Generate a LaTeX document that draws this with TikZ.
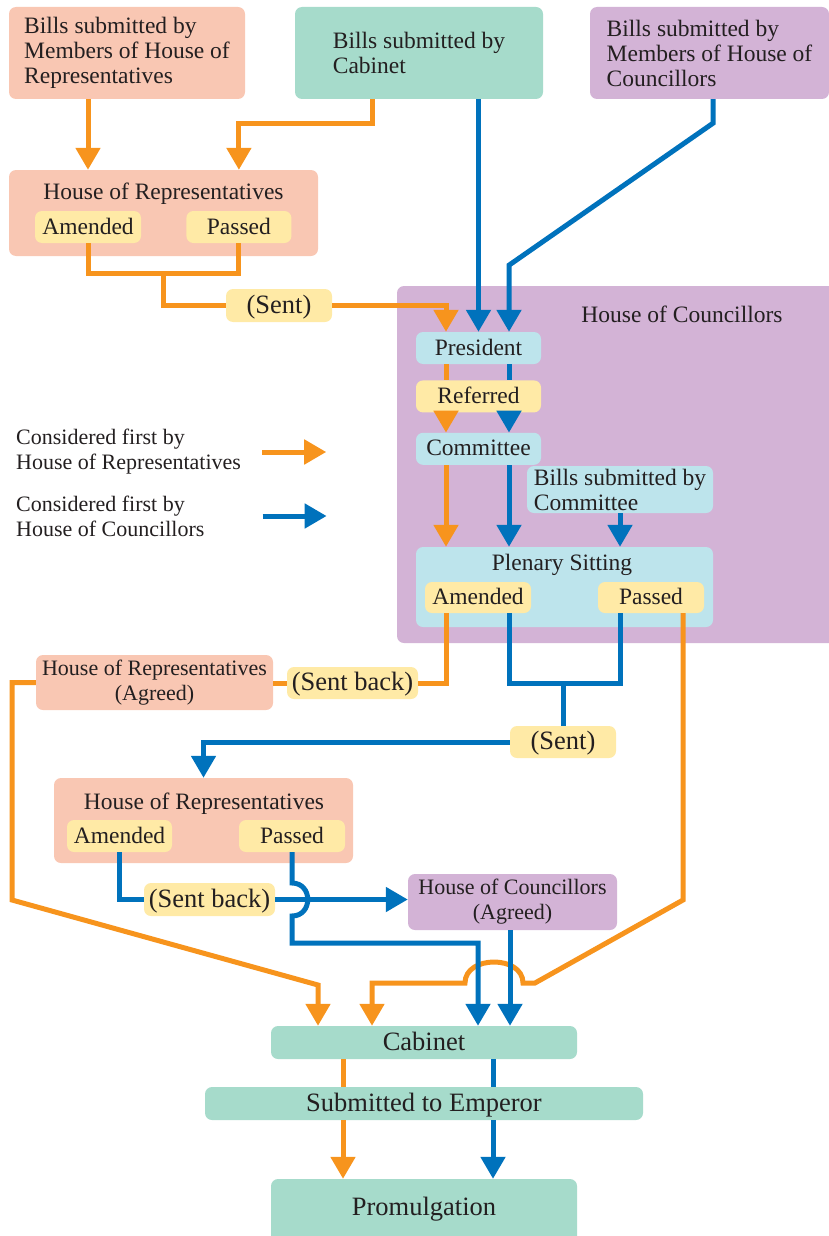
\documentclass[tikz,border=0pt]{standalone}
\usepackage{fontspec}
\setmainfont{Liberation Serif}
\usetikzlibrary{arrows.meta,positioning}

\definecolor{repcol}{HTML}{F9C7B3}
\definecolor{cabcol}{HTML}{A6DBCB}
\definecolor{coucol}{HTML}{D3B3D6}
\definecolor{comcol}{HTML}{BDE4EC}
\definecolor{tagcol}{HTML}{FFEAA6}
\definecolor{orline}{HTML}{F7941D}
\definecolor{blline}{HTML}{0072BC}
\definecolor{ink}{HTML}{231F20}

\begin{document}
\begin{tikzpicture}[x=1pt,y=-1pt]
\tikzstyle{box}=[rectangle, rounded corners=7pt, inner sep=0pt, text=ink, font=\fontsize{23.5}{25}\selectfont]
\tikzstyle{one}=[box, text height=16.5pt, text depth=2.5pt]
\tikzstyle{big}=[box, font=\fontsize{26.5}{28}\selectfont, text height=18.5pt, text depth=2.6pt, minimum height=33pt]
\tikzstyle{tag}=[one, fill=tagcol, minimum height=32pt]
\tikzstyle{bigtag}=[big, fill=tagcol]
\tikzstyle{small}=[box, font=\fontsize{22}{25}\selectfont, align=center]
\tikzstyle{lineO}=[line width=5pt, draw=orline]
\tikzstyle{lineB}=[line width=5pt, draw=blline]
\tikzstyle{connectO}=[lineO, -{Triangle[width=24pt,length=22pt]}]
\tikzstyle{connectB}=[lineB, -{Triangle[width=24pt,length=22pt]}]
  \useasboundingbox (0,0) rectangle (829,1236);
  % sources
  \node[box, fill=repcol, minimum width=236pt, minimum height=92pt, align=left] (billsR) at (127,53) {Bills submitted by\\Members of House of\\Representatives};
  \node[box, fill=cabcol, minimum width=248pt, minimum height=92pt, align=left] (billsK) at (419,53) {Bills submitted by\\Cabinet};
  \node[box, fill=coucol, minimum width=239pt, minimum height=92pt, align=left] (billsC) at (709.5,53) {Bills submitted by\\Members of House of\\Councillors};
  % first house
  \node[box, fill=repcol, minimum width=309pt, minimum height=86pt] (hr1) at (163.5,213) {};
  \node[box, anchor=base] (hr1t) at (163.5,199) {House of Representatives};
  \node[tag, minimum width=106pt] (hr1am) at (88,227) {Amended};
  \node[tag, minimum width=105pt] (hr1pa) [right=45pt of hr1am] {Passed};
  \node[bigtag, minimum width=106pt] (sent1) at (279,305.5) {(Sent)};
  % house of councillors
  \node[box, fill=coucol, minimum width=448pt, minimum height=357pt] (hc) at (621,464.5) {};
  \node[box, anchor=base] (hct) at (682,322) {House of Councillors};
  \node[one, fill=comcol, minimum width=125pt, minimum height=32pt] (pres) at (478.5,348) {President};
  \node[tag, minimum width=125pt] (ref) [below=16pt of pres] {Referred};
  \node[one, fill=comcol, minimum width=125pt, minimum height=32pt] (comm) [below=20pt of ref] {Committee};
  \node[box, fill=comcol, minimum width=186pt, minimum height=47pt, align=left] (billsCm) at (620,489.5) {Bills submitted by\\Committee};
  \node[box, fill=comcol, minimum width=297pt, minimum height=80pt] (plen) at (564.5,587) {};
  \node[box, anchor=base] (plent) at (562,570) {Plenary Sitting};
  \node[tag, minimum width=106pt, minimum height=31pt] (plam) at (478,597.5) {Amended};
  \node[tag, minimum width=106pt, minimum height=31pt] (plpa) at (651,597.5) {Passed};
  % legend
  \node[small, anchor=west, align=left] (legO) at (16,452) {Considered first by\\House of Representatives};
  \node[small, anchor=west, align=left] (legB) at (16,516) {Considered first by\\House of Councillors};
  % back and forth
  \node[small, fill=repcol, minimum width=237pt, minimum height=55pt] (hra) at (154.5,682.5) {House of Representatives\\(Agreed)};
  \node[bigtag, minimum width=131pt, minimum height=32pt] (sentbk1) at (352.5,683) {(Sent back)};
  \node[bigtag, minimum width=106pt, minimum height=32pt] (sent2) at (563,742) {(Sent)};
  \node[box, fill=repcol, minimum width=299pt, minimum height=85pt] (hr2) at (203.5,820.5) {};
  \node[box, anchor=base] (hr2t) at (204,809) {House of Representatives};
  \node[tag, minimum width=105pt] (hr2am) at (119.5,836) {Amended};
  \node[tag, minimum width=106pt] (hr2pa) at (292,836) {Passed};
  \node[bigtag, minimum width=131pt, minimum height=33pt] (sentbk2) at (209.5,899.5) {(Sent back)};
  \node[small, fill=coucol, minimum width=209pt, minimum height=56pt] (hca) at (512.5,902) {House of Councillors\\(Agreed)};
  % final steps
  \node[big, fill=cabcol, minimum width=306pt] (cab) at (424,1042.5) {Cabinet};
  \node[big, fill=cabcol, minimum width=438pt] (emp) at (424,1103.5) {Submitted to Emperor};
  \node[big, fill=cabcol, minimum width=306pt, minimum height=64pt, text depth=10.5pt] (prom) at (424,1211) {Promulgation};
  % columns and bends
  \coordinate (cO1) at (446,0);
  \coordinate (cB1) at (509,0);
  \coordinate (cB2) at (620,0);
  \coordinate (cO2) at (683,0);
  \coordinate (cO4) at (372,0);
  \coordinate (cB3) at (478,0);
  \coordinate (cB4) at (510,0);
  \coordinate (cO5) at (343,0);
  \coordinate (cB5) at (493,0);
  \coordinate (kO1) at (12,900);
  \coordinate (kO2) at (318,985);
  \coordinate (kO3) at (683,900);
  \coordinate (kO4) at (535,983);
  \coordinate (kO5) at (523,983);
  \coordinate (kO6) at (465,983);
  \coordinate (kB1) at (292,883);
  \coordinate (kB2) at (292,916);
  \coordinate (kB3) at (292,943);
  % orange flow
  \draw[connectO] (billsR.south -| hr1am) -- (hr1.north -| hr1am);
  \draw[connectO] ([xshift=-47pt]billsK.south) -- ++(0,24) -| (hr1.north -| hr1pa);
  \draw[lineO] (hr1am.south) -- ++(0,30) -| (hr1pa.south);
  \draw[lineO] ([yshift=-17pt]hr1.south) |- (sent1.west);
  \draw[connectO] (sent1.east) -| (pres.north -| cO1);
  \draw[lineO] (pres.south -| cO1) -- (ref.north -| cO1);
  \draw[connectO] (ref.south -| cO1) -- (comm.north -| cO1);
  \draw[connectO] (comm.south -| cO1) -- (plen.north -| cO1);
  \draw[lineO] (plam.south -| cO1) |- (sentbk1.east);
  \draw[lineO] (sentbk1.west) -- (sentbk1.west -| hra.east);
  \draw[connectO] (hra.west) -| (kO1) -- (kO2) -- (cab.north -| kO2);
  \draw[connectO] (plpa.south -| cO2) -- (kO3) -- (kO4) -- (kO5) .. controls +(0,-28) and +(0,-28) .. (kO6) -| (cab.north -| cO4);
  \draw[lineO] (cab.south -| cO5) -- (emp.north -| cO5);
  \draw[connectO] (emp.south -| cO5) -- (prom.north -| cO5);
  % blue flow
  \draw[connectB] (billsK.south -| pres.north) -- (pres.north);
  \draw[connectB] ([xshift=3.5pt]billsC.south) -- ++(0,24) -- ++(-204,142) -- (pres.north -| cB1);
  \draw[lineB] (pres.south -| cB1) -- (ref.north -| cB1);
  \draw[connectB] (ref.south -| cB1) -- (comm.north -| cB1);
  \draw[connectB] (comm.south -| cB1) -- (plen.north -| cB1);
  \draw[connectB] (billsCm.south) -- (plen.north -| billsCm.south);
  \draw[lineB] (plam.south -| cB1) -- ++(0,70) -| (plpa.south -| cB2);
  \draw[lineB] (sent2.north) -- ++(0,-43);
  \draw[connectB] (sent2.west) -| (hr2.north);
  \draw[lineB] (hr2am.south) |- (sentbk2.west);
  \draw[connectB] (sentbk2.east) -- (sentbk2.east -| hca.west);
  \draw[connectB] (hr2pa.south) -- (kB1) .. controls +(21,0) and +(21,0) .. (kB2) -- (kB3) -| (cab.north -| cB3);
  \draw[connectB] (hca.south -| cB4) -- (cab.north -| cB4);
  \draw[lineB] (cab.south -| cB5) -- (emp.north -| cB5);
  \draw[connectB] (emp.south -| cB5) -- (prom.north -| cB5);
  % legend arrows
  \draw[connectO] ([xshift=21pt]legO.east) -- ++(64,0);
  \draw[connectB] ([xshift=58pt]legB.east) -- ++(64,0);
\end{tikzpicture}
\end{document}
